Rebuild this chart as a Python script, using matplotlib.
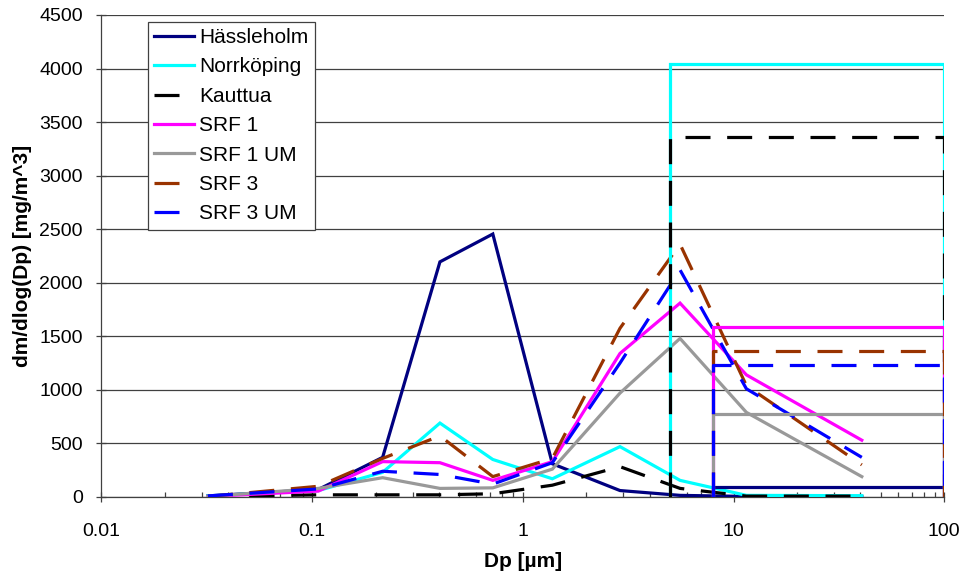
import matplotlib
matplotlib.use("Agg")
import matplotlib.pyplot as plt
from matplotlib.ticker import FixedLocator, FixedFormatter, LogLocator, NullFormatter

plt.rcParams['font.family'] = ['Liberation Sans', 'DejaVu Sans']
plt.rcParams['lines.scale_dashes'] = False

# ---- data ----
series_names = ['Hässleholm', 'Norrköping', 'Kauttua', 'SRF 1', 'SRF 1 UM', 'SRF 3', 'SRF 3 UM']
dp = [0.032, 0.107, 0.216, 0.404, 0.72, 1.38, 2.89, 5.57, 11.5, 40.6]

hassleholm = [10, 70, 370, 2195, 2455, 310, 60, 15, 5, 5]
norrkoping = [10, 60, 230, 690, 350, 170, 470, 155, 15, 12]
kauttua    = [5, 20, 20, 20, 30, 110, 283, 80, 8, 8]
srf1       = [5, 55, 330, 320, 155, 330, 1340, 1810, 1140, 530]
srf1_um    = [5, 80, 180, 80, 85, 260, 970, 1480, 790, 190]
srf3       = [5, 100, 360, 570, 190, 360, 1575, 2360, 1040, 300]
srf3_um    = [10, 75, 240, 210, 120, 320, 1250, 2120, 1010, 370]

# coarse-fraction boxes (left edge, level) ending at Dp = 100
box_left  = [8, 5, 5, 8, 8, 8, 8]
box_level = [90, 4040, 3360, 1590, 770, 1360, 1230]
box_right = 100

x_ticks = [0.01, 0.1, 1, 10, 100]
x_tick_labels = ['0.01', '0.1', '1', '10', '100']
y_ticks = [0, 500, 1000, 1500, 2000, 2500, 3000, 3500, 4000, 4500]

# ---- style ----
colors = ['#000080', '#00FFFF', '#000000', '#FF00FF', '#999999', '#993300', '#0000FF']
dashed = [False, False, True, False, False, True, True]
LW = 2.3
DASH = (0, (18, 12))

fig = plt.figure(figsize=(9.69, 5.76), dpi=100)
ax = fig.add_axes([0.1047, 0.1372, 0.8698, 0.8368])

all_series = [hassleholm, norrkoping, kauttua, srf1, srf1_um, srf3, srf3_um]
handles = []
for name, vals, c, d in zip(series_names, all_series, colors, dashed):
    ls = DASH if d else '-'
    h, = ax.plot(dp, vals, color=c, lw=LW, linestyle=ls, label=name,
                 solid_joinstyle='miter', zorder=3)
    handles.append(h)

for left, level, c, d in zip(box_left, box_level, colors, dashed):
    ls = DASH if d else '-'
    ax.plot([left, left, box_right, box_right], [0, level, level, 0],
            color=c, lw=LW, linestyle=ls, solid_joinstyle='miter', zorder=4)

ax.set_xscale('log')
ax.set_xlim(0.01, 100)
ax.set_ylim(0, 4500)
ax.xaxis.set_major_locator(FixedLocator(x_ticks))
ax.xaxis.set_major_formatter(FixedFormatter(x_tick_labels))
ax.xaxis.set_minor_locator(LogLocator(base=10, subs=range(2, 10)))
ax.xaxis.set_minor_formatter(NullFormatter())
ax.set_yticks(y_ticks)

ax.grid(axis='y', color='#404040', lw=0.9, zorder=1)
ax.set_axisbelow(True)
for s in ['top', 'right']:
    ax.spines[s].set_visible(False)
for s in ['left', 'bottom']:
    ax.spines[s].set_color('#404040')
    ax.spines[s].set_linewidth(0.9)

ax.tick_params(axis='x', which='major', direction='inout', length=7, width=0.9,
               color='#404040', labelsize=14, pad=15)
ax.tick_params(axis='x', which='minor', direction='in', length=3.5, width=0.9,
               color='#404040')
ax.tick_params(axis='y', which='major', direction='inout', length=7, width=0.9,
               color='#404040', labelsize=14, pad=10)

ax.set_xlabel('Dp [µm]', fontsize=15, fontweight='bold', labelpad=9)
ax.set_ylabel('dm/dlog(Dp) [mg/m^3]', fontsize=15, fontweight='bold', labelpad=5)

leg = ax.legend(handles=handles, loc='upper left', bbox_to_anchor=(0.0555, 0.986),
                borderaxespad=0, fontsize=15, handlelength=1.92, handletextpad=0.24,
                borderpad=0.3, labelspacing=0.5, frameon=True, fancybox=False,
                framealpha=1, edgecolor='#404040')
leg.get_frame().set_linewidth(0.9)
leg.set_zorder(10)

fig.savefig('out.png', dpi=100)
